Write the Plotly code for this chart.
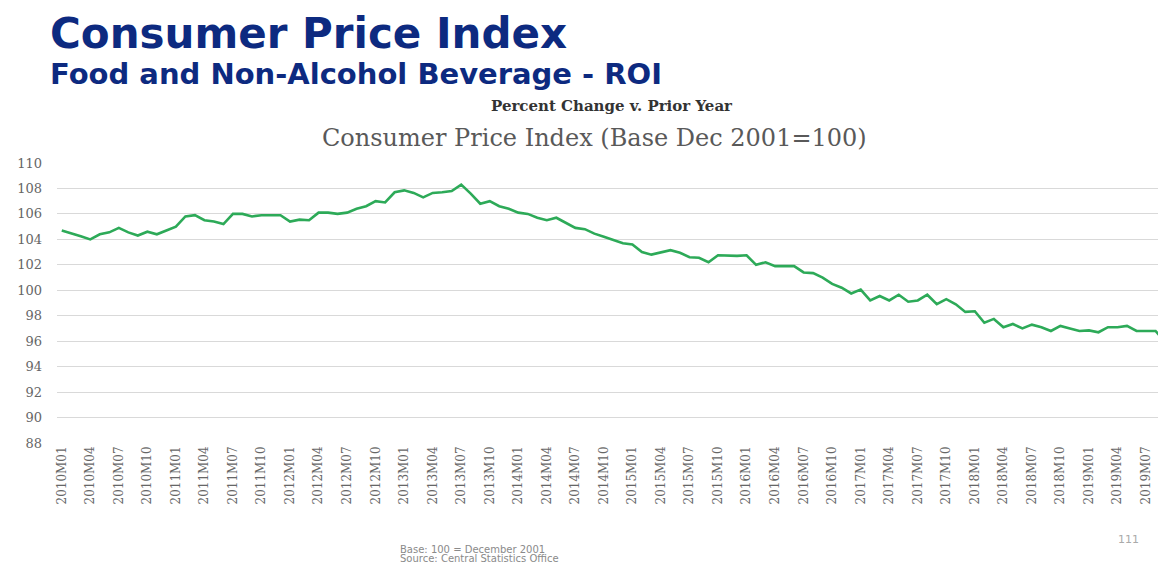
import plotly.graph_objects as go

# ---- data ----
months = []
for yr in range(2010, 2020):
    for m in range(1, 13):
        months.append(f"{yr}M{m:02d}")
months = months[:117]  # 2010M01 .. 2019M09

cpi = [
    104.7, 104.5, 104.25, 104.0, 104.4, 104.55, 104.9, 104.55, 104.3, 104.6, 104.4, 104.7,
    105.0, 105.8, 105.9, 105.5, 105.4, 105.2, 106.0, 106.0, 105.8, 105.9, 105.9, 105.9,
    105.4, 105.55, 105.5, 106.1, 106.1, 106.0, 106.1, 106.4, 106.6, 107.0, 106.9, 107.7,
    107.85, 107.65, 107.3, 107.65, 107.7, 107.8, 108.3, 107.6, 106.8, 107.0, 106.6, 106.4,
    106.1, 106.0, 105.7, 105.5, 105.7, 105.3, 104.9, 104.8, 104.45, 104.2, 103.95, 103.7,
    103.6, 103.0, 102.8, 103.0, 103.15, 102.95, 102.6, 102.55, 102.2, 102.75, 102.7, 102.7,
    102.75, 102.0, 102.2, 101.9, 101.9, 101.9, 101.4, 101.35, 101.0, 100.5, 100.2, 99.75,
    100.05, 99.2, 99.55, 99.2, 99.65, 99.1, 99.2, 99.65, 98.9, 99.3, 98.9, 98.3,
    98.35, 97.45, 97.75, 97.1, 97.35, 97.0, 97.3, 97.1, 96.8, 97.2, 97.0, 96.8,
    96.85, 96.7, 97.1, 97.1, 97.2, 96.8, 96.8, 96.8, 95.95,
]
tick_labels = months[::3]

main_title = "Consumer Price Index"
sub_title = "Food and Non-Alcohol Beverage - ROI"
kicker = "Percent Change v. Prior Year"
chart_title = "Consumer Price Index (Base Dec 2001=100)"
footer1 = "Base: 100 = December 2001"
footer2 = "Source: Central Statistics Office"
page_no = "111"

fig = go.Figure()
fig.add_trace(go.Scatter(
    x=months, y=cpi, mode="lines",
    line=dict(color="#2daa58", width=2.6),
    hoverinfo="x+y", showlegend=False,
))

serif = "DejaVu Serif, Liberation Serif, serif"
sans = "DejaVu Sans, Liberation Sans, sans-serif"
navy = "#0d2a80"

fig.update_layout(
    width=1158, height=558,
    margin=dict(l=49, r=0, t=155, b=123),
    paper_bgcolor="white", plot_bgcolor="white",
    xaxis=dict(
        type="category",
        range=[-0.5, 116.1],
        tickmode="array", tickvals=tick_labels, ticktext=tick_labels,
        tickangle=-90,
        tickfont=dict(family=serif, size=12, color="#666666"),
        showgrid=False, zeroline=False, showline=False, ticks="",
    ),
    yaxis=dict(
        range=[88, 110], dtick=2, tick0=88,
        tickfont=dict(family=serif, size=13, color="#666666"),
        showgrid=True, gridcolor="#d9d9d9", gridwidth=1,
        zeroline=False, showline=False, ticks="",
        ticklabelstandoff=14,
    ),
    annotations=[
        dict(text=f"<b>{main_title}</b>", xref="paper", yref="paper",
             x=-0.0081, y=1.464, xanchor="left", yanchor="middle", showarrow=False,
             font=dict(family=sans, size=42, color=navy)),
        dict(text=f"<b>{sub_title}</b>", xref="paper", yref="paper",
             x=-0.0081, y=1.318, xanchor="left", yanchor="middle", showarrow=False,
             font=dict(family=sans, size=29, color=navy)),
        dict(text=f"<b>{kicker}</b>", xref="paper", yref="paper",
             x=0.5005, y=1.2036, xanchor="center", yanchor="middle", showarrow=False,
             font=dict(family=serif, size=15, color="#333333")),
        dict(text=chart_title, xref="paper", yref="paper",
             x=0.485, y=1.089, xanchor="center", yanchor="middle", showarrow=False,
             font=dict(family=serif, size=24, color="#595959")),
        dict(text=footer1, xref="paper", yref="paper",
             x=0.3075, y=-0.382, xanchor="left", yanchor="middle", showarrow=False,
             font=dict(family=sans, size=10, color="#8a8a8a")),
        dict(text=footer2, xref="paper", yref="paper",
             x=0.3075, y=-0.414, xanchor="left", yanchor="middle", showarrow=False,
             font=dict(family=sans, size=10, color="#8a8a8a")),
        dict(text=page_no, xref="paper", yref="paper",
             x=0.966, y=-0.346, xanchor="center", yanchor="middle", showarrow=False,
             font=dict(family=sans, size=11, color="#aaaaaa")),
    ],
)

fig.write_html("out.html")
